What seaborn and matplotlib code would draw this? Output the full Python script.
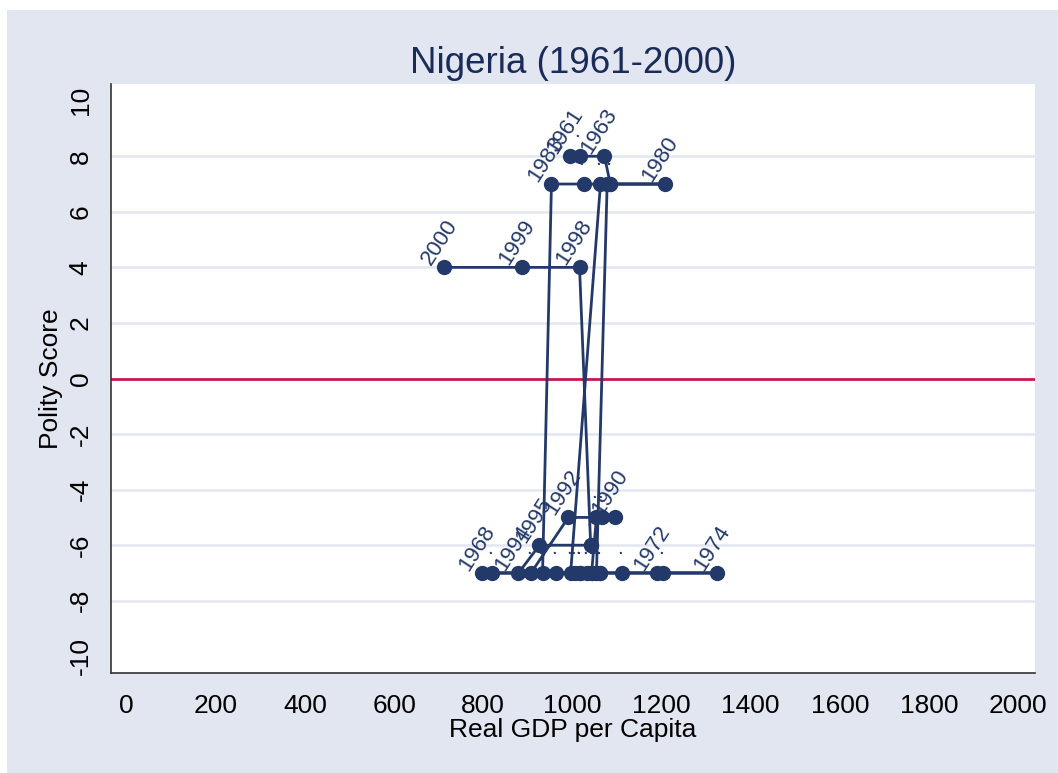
import matplotlib
matplotlib.use("Agg")
import matplotlib.pyplot as plt
import matplotlib.patches as mpatches
import seaborn as sns
import pandas as pd

# Nigeria, one point per year
years = list(range(1961, 2001))
gdp = [995, 1016, 1072, 1085, 1078, 1054, 820, 797, 963, 1062,
       1111, 1189, 1204, 1324, 1043, 1062, 1006, 996, 1063, 1208,
       1085, 1025, 953, 933, 1017, 1032, 1017, 1043, 1054, 1096,
       1066, 991, 907, 879, 926, 1041, 1041, 1016, 886, 713]
polity = [8, 8, 8, 7, 7, -7, -7, -7, -7, -7,
          -7, -7, -7, -7, -7, -7, -7, -7, 7, 7,
          7, 7, 7, -7, -7, -7, -7, -7, -5, -5,
          -5, -5, -7, -7, -6, -6, -6, 4, 4, 4]
shown_years = [1961, 1963, 1968, 1972, 1974, 1980, 1983, 1990, 1992, 1994, 1995, 1998, 1999, 2000]
point_labels = [str(y) if y in shown_years else "." for y in years]

x_ticks = list(range(0, 2001, 200))
y_ticks = list(range(-10, 11, 2))

df = pd.DataFrame({"year": years, "gdp": gdp, "polity": polity, "lab": point_labels})

sns.set_style("white")
plt.rcParams["font.family"] = ["Liberation Sans", "DejaVu Sans"]

navy = "#23396a"
bg = "#e2e6f0"

fig = plt.figure(figsize=(10.58, 7.73), dpi=100, facecolor="white")
fig.patches.append(mpatches.Rectangle((7 / 1058, 0), 1, 1 - 10 / 773, transform=fig.transFigure,
                                      facecolor=bg, edgecolor="none", zorder=-10))
ax = fig.add_axes([110.7 / 1058, 1 - 673 / 773, (1035 - 110.7) / 1058, (673 - 84) / 773])
ax.set_facecolor("white")

for yt in y_ticks:
    if yt not in (-10, 0, 10):
        ax.axhline(yt, color="#e2e6f0", lw=1.8, zorder=0)
ax.axhline(0, color="#c8174f", lw=2.0, zorder=1)

# labels sit under the path, like the original
for gx, py, lab in zip(gdp, polity, point_labels):
    ax.annotate(lab, (gx, py), xytext=(-3.6, 17.8), textcoords="offset points",
                rotation=57, rotation_mode="anchor", ha="center", va="center",
                fontsize=16, color=navy, zorder=2)

sns.lineplot(data=df, x="gdp", y="polity", sort=False, estimator=None, ax=ax,
             color=navy, lw=2.0, marker="o", markersize=11, markeredgecolor=navy,
             markeredgewidth=0, zorder=3)

ax.set_xlim(-36, 2038)
ax.set_ylim(-10.6, 10.6)
ax.set_xticks(x_ticks)
ax.set_yticks(y_ticks)
ax.set_yticklabels([str(t) for t in y_ticks], rotation=90, va="center")
ax.tick_params(axis="both", direction="out", length=7, width=1, color="#333333",
               labelsize=19, labelcolor="black", pad=6)
ax.tick_params(axis="x", pad=8)

for side in ["top", "right"]:
    ax.spines[side].set_visible(False)
for side in ["left", "bottom"]:
    ax.spines[side].set_color("#333333")
    ax.spines[side].set_linewidth(1.2)

ax.set_xlabel("Real GDP per Capita", fontsize=19, color="black", labelpad=0)
ax.set_ylabel("Polity Score", fontsize=19, color="black", labelpad=4)
ax.set_title("Nigeria (1961-2000)", fontsize=26.5, color="#1a2b5a", pad=8)
ax.grid(False)

fig.savefig("out.png", dpi=100, facecolor=fig.get_facecolor())
